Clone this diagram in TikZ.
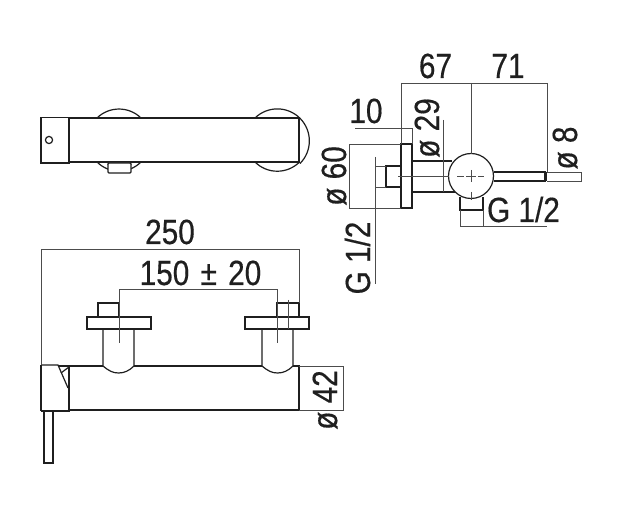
\documentclass[tikz,border=0pt]{standalone}
\usepackage{fontspec}
\setmainfont[FakeStretch=0.85,FakeBold=0.4]{Liberation Sans}
\tikzset{
  x=1pt,y=-1pt,
  part/.style={draw=black!88,line width=1.2pt,line join=miter},
  heavy/.style={draw=black!88,line width=2.2pt},
  dim/.style={draw=black!70,line width=0.65pt},
  lab/.style={font=\fontsize{35}{35}\selectfont,text=black!88,inner sep=0pt,anchor=base},
  vlab/.style={lab,rotate=90},
}
\begin{document}
\begin{tikzpicture}
\useasboundingbox[fill=white] (0,0) rectangle (625,526);

% --- top view
\draw[part] (97,118) arc[start angle=225.7,end angle=314.3,radius=31.5];
\draw[part] (255,118) arc[start angle=225.7,end angle=405,radius=32] ;
\draw[part] (97,162) arc[start angle=135,end angle=110,radius=31.5];
\draw[part] (141,162) arc[start angle=45,end angle=70,radius=31.5];
\draw[part] (108,165) arc[start angle=180,end angle=360,x radius=11.5,y radius=7];
\draw[part] (255,162) arc[start angle=135,end angle=45,radius=31.5];
\draw[part,fill=white] (69,118) rectangle (299,162);
\draw[part,fill=white] (41,117.5) rectangle (69,163);
\draw[heavy] (69,117.5) -- (69,163);
\draw[part] (49,140) circle[radius=3.6];
\draw[part,fill=white,rounded corners=1pt] (108,163) rectangle (131,173);

% --- side view
\draw[part] (412,161) -- (452,161);
\draw[part] (412,192) -- (455,192);
\draw[part,fill=white] (401,144) rectangle (412,208);
\draw[part] (401,166) -- (386,166) -- (386,187) -- (401,187);
\draw[heavy] (386,166) -- (386,187);
\draw[part] (460,197) -- (460,210) -- (483,210) -- (483,197);
\draw[heavy] (460,210) -- (483,210);
\draw[part,fill=white] (471,176) circle[radius=22.5];
\draw[part] (494,172) -- (545,172) -- (545,181) -- (494,181);
\draw[heavy] (546,172) -- (546,181);

% side view dimensions
\draw[dim] (401,83) -- (547,83);
\draw[dim] (401,83) -- (401,144);
\draw[dim] (471,83) -- (471,154);
\draw[dim] (471,170) -- (471,182);
\draw[dim] (471,192) -- (471,200);
\draw[dim] (547,83) -- (547,172);
\draw[dim] (355,128) -- (412,128) -- (412,144);
\draw[dim] (401,144) -- (349,144) -- (349,208) -- (401,208);
\draw[dim] (443,120) -- (443,192);
\draw[dim] (547,172) -- (581,172) -- (581,181) -- (547,181);
\draw[dim] (375,157) -- (375,284);
\draw[dim] (375,166) -- (386,166);
\draw[dim] (375,187) -- (386,187);
\draw[dim] (398,176) -- (449,176);
\draw[dim] (457,176) -- (464,176);
\draw[dim] (466,176) -- (476,176);
\draw[dim] (478,176) -- (484,176);
\draw[dim] (460,210) -- (460,227);
\draw[dim] (483,210) -- (483,227);
\draw[dim] (460,226) -- (547,226);

% --- front view
\draw[part] (103,329) -- (103,366) .. controls (109,371) and (113,373) .. (118.5,373) .. controls (124,373) and (129,371) .. (134,366) -- (134,329);
\draw[part] (262,329) -- (262,366) .. controls (268,371) and (272,373) .. (277.5,373) .. controls (283,373) and (288,371) .. (293,366) -- (293,329);
\draw[part] (98,317) -- (98,303) -- (119,303) -- (119,317);
\draw[part] (277,317) -- (277,303) -- (299,303) -- (299,317);
\draw[part] (87,317) rectangle (151,329);
\draw[part] (245,317) rectangle (309,329);
\draw[part] (58,366) -- (103,366);
\draw[part] (134,366) -- (262,366);
\draw[part] (293,366) -- (299,366) -- (299,410) -- (69,410);
\draw[part] (69,367) -- (69,388);
\draw[part] (61,373) -- (69,367);
\draw[heavy] (41,365) -- (41,411);
\draw[part] (41,365) -- (58,365) -- (68,388);
\draw[heavy] (69,388) -- (69,411) -- (41,411);
\draw[part] (44,411) -- (44,463) -- (53,463) -- (53,411);
\draw[heavy] (44,463) -- (53,463);

% front view dimensions
\draw[dim] (41,365) -- (41,249) -- (299,249) -- (299,303);
\draw[dim] (119,343) -- (119,289) -- (277,289) -- (277,343);
\draw[dim] (288,300) -- (288,329);
\draw[dim] (299,366) -- (343,366) -- (343,410) -- (299,410);

% --- labels
\node[lab] (d67) at (435.5,78) {67};
\node[lab] (d71) at (508,78) {71};
\node[lab] (d10) at (366,123) {10};
\node[vlab] (d29) at (439,128) {ø 29};
\node[vlab] (d8) at (577,148) {ø 8};
\node[vlab] (d60) at (346,176) {ø 60};
\node[vlab] (gl) at (370,258) {G 1/2};
\node[lab] (gr) at (523.5,222) {G 1/2};
\node[lab] (d250) at (170,244) {250};
\node[lab] (d150) at (200.5,285) {150\hspace{3pt} ±\hspace{3pt} 20};
\node[vlab] (d42) at (337,400) {ø 42};
\end{tikzpicture}
\end{document}
